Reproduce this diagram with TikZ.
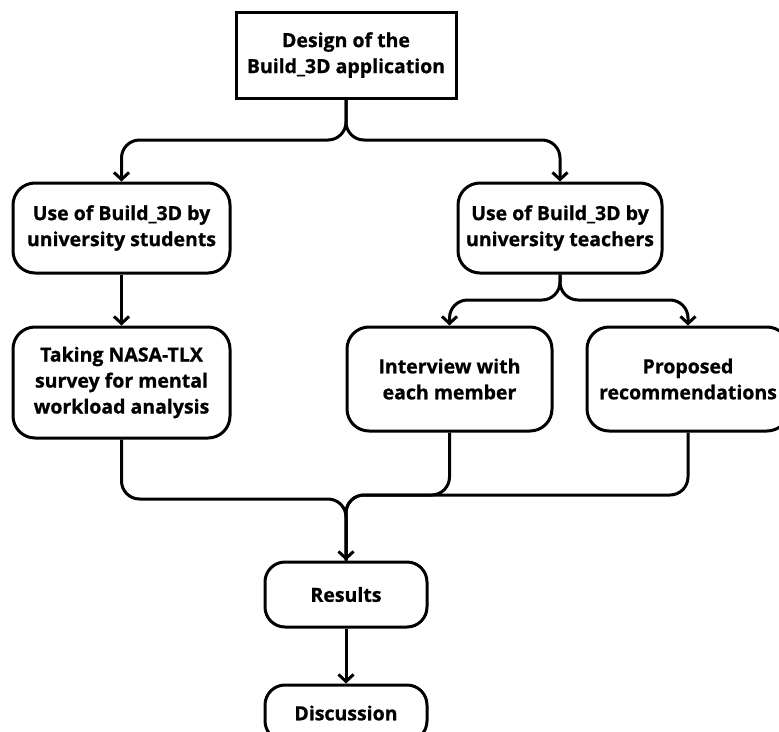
\documentclass[tikz,border=0pt]{standalone}
\usepackage{fontspec}
\setmainfont{Open Sans}[BoldFeatures={FakeBold=0.8}]
\usepackage{tikz}
\usetikzlibrary{arrows.meta,calc}
\definecolor{BoxLine}{RGB}{0,0,0}
\definecolor{BoxFill}{RGB}{255,255,255}
\tikzset{
  nd_top/.style={rectangle,draw=BoxLine,fill=BoxFill,line width=3pt,minimum width=220pt,minimum height=86pt,align=center,font=\bfseries\fontsize{19.5}{26}\selectfont},
  nd_step/.style={rectangle,rounded corners=22pt,draw=BoxLine,fill=BoxFill,line width=3pt,align=center,font=\bfseries\fontsize{19.5}{26}\selectfont},
  arr/.style={-{Straight Barb[length=7pt,width=15pt]},line width=3pt,rounded corners=18pt},
  ln/.style={line width=3pt,rounded corners=18pt},
}
\begin{document}
\begin{tikzpicture}[x=1pt,y=-1pt]
\useasboundingbox (0,0) rectangle (779,731);
\node[nd_top] at (346,55)(D){Design of the\\Build\_3D application};
% left column
\node[nd_step,minimum width=217pt,minimum height=90pt] at (121.5,228)(US){Use of Build\_3D by\\university students};
\node[nd_step,minimum width=217pt,minimum height=111pt] at (121.5,382.5)(NT){Taking NASA-TLX\\survey for mental\\workload analysis};
% right column
\node[nd_step,minimum width=204pt,minimum height=90pt] at (560,228)(UT){Use of Build\_3D by\\university teachers};
\node[nd_step,minimum width=205pt,minimum height=104pt] at (449.5,379)(IW){Interview with\\each member};
\node[nd_step,minimum width=202pt,minimum height=104pt] at (688,379)(PR){Proposed\\recommendations};
% bottom
\node[nd_step,rounded corners=20pt,minimum width=162pt,minimum height=65pt] at (346,594.5)(RS){Results};
\node[nd_step,rounded corners=20pt,minimum width=162pt,minimum height=56pt] at (346,713)(DS){Discussion};
% forks and joins
\coordinate (f1) at (346,140);
\coordinate (f2) at (560,300);
\coordinate (jl) at (346,499);
\coordinate (jr) at (346,495);
% arrows
\draw[arr](D.south)--(f1)-|(US.north);
\draw[arr](D.south)--(f1)-|(UT.north);
\draw[arr](US)--(NT);
\draw[arr](UT.south)--(f2)-|(IW.north);
\draw[arr](UT.south)--(f2)-|(PR.north);
\draw[arr](NT.south)|-(jl)--(RS.north);
\draw[ln](PR.south)|-(jr)--(RS.north);
\draw[ln](IW.south)|-(jr)--(RS.north);
\draw[arr](RS)--(DS);
\end{tikzpicture}
\end{document}
